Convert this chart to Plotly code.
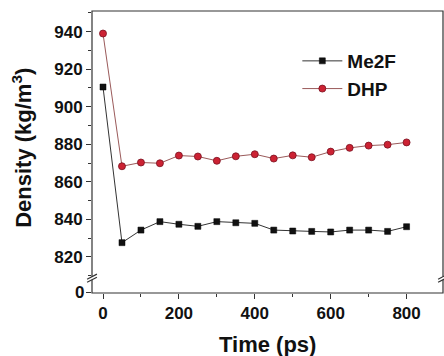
import plotly.graph_objects as go

time_ps = [0, 50, 100, 150, 200, 250, 300, 350, 400, 450, 500, 550, 600, 650, 700, 750, 800]
me2f = [910.5, 827.6, 834.3, 838.8, 837.4, 836.3, 838.8, 838.2, 837.9, 834.3, 833.8, 833.6, 833.3, 834.3, 834.3, 833.6, 836.1]
dhp = [939.0, 868.3, 870.3, 869.9, 874.0, 873.5, 871.2, 873.6, 874.7, 872.4, 874.1, 873.1, 876.1, 878.1, 879.3, 879.8, 881.0]
lower_tick = 0

FONT = "Liberation Sans, Arial, sans-serif"

fig = go.Figure()
fig.add_trace(go.Scatter(
    x=time_ps, y=me2f, name="Me2F", mode="lines+markers", xaxis="x", yaxis="y2",
    line=dict(color="#333333", width=1),
    marker=dict(symbol="square", size=6, color="#111111", line=dict(color="#000000", width=0.5)),
))
fig.add_trace(go.Scatter(
    x=time_ps, y=dhp, name="DHP", mode="lines+markers", xaxis="x", yaxis="y2",
    line=dict(color="#9a5a5a", width=1),
    marker=dict(symbol="circle", size=7, color="#cc2233", line=dict(color="#7a1020", width=0.8)),
))

tickfont = dict(family=FONT, size=17, color="#111111", weight="bold")

shapes = [dict(type="rect", xref="paper", yref="paper", x0=0, x1=1, y0=0, y1=1,
               line=dict(color="#333333", width=1.2), fillcolor="rgba(0,0,0,0)")]
# axis break marks
for xb in (0, 1):
    shapes.append(dict(type="rect", xref="paper", yref="paper", x0=xb - 0.006, x1=xb + 0.006,
                       y0=0.047, y1=0.058, line=dict(width=0), fillcolor="white"))
    for yc in (0.047, 0.058):
        shapes.append(dict(type="line", xref="paper", yref="paper", x0=xb - 0.014, x1=xb + 0.014,
                           y0=yc - 0.009, y1=yc + 0.009, line=dict(color="#333333", width=1.2)))

fig.update_layout(
    width=444, height=356,
    margin=dict(l=92, r=1, t=11, b=63, autoexpand=False),
    paper_bgcolor="white", plot_bgcolor="white",
    font=dict(family=FONT, color="#111111"),
    showlegend=True,
    legend=dict(x=0.585, y=0.89, xanchor="left", yanchor="top", bgcolor="rgba(0,0,0,0)",
                font=dict(family=FONT, size=19, color="#111111", weight="bold"),
                itemwidth=40, tracegroupgap=0),
    xaxis=dict(range=[-29, 896], anchor="y", showgrid=False, zeroline=False, showline=False,
               automargin=False,
               tickvals=[0, 200, 400, 600, 800], ticks="outside", ticklen=5, tickwidth=1,
               tickcolor="#333333", tickfont=tickfont,
               minor=dict(tickvals=[100, 300, 500, 700], ticks="outside", ticklen=3, tickcolor="#333333")),
    yaxis=dict(domain=[0, 0.045], range=[-0.3, 6.8], anchor="x", showgrid=False, zeroline=False,
               automargin=False, showticklabels=False,
               showline=False, tickvals=[lower_tick], ticks="outside", ticklen=5,
               tickcolor="#333333"),
    yaxis2=dict(domain=[0.06, 1], range=[809.8, 951], anchor="x", showgrid=False, zeroline=False,
                automargin=False,
                showline=False, tickvals=[820, 840, 860, 880, 900, 920, 940], ticks="outside",
                ticklen=5, tickcolor="#333333", tickfont=tickfont,
                minor=dict(dtick=10, tick0=0, ticks="outside", ticklen=3, tickcolor="#333333")),
    shapes=shapes,
    annotations=[
        dict(text=str(lower_tick), xref="paper", yref="y", x=0, y=lower_tick, xanchor="right",
             yanchor="middle", xshift=-6, showarrow=False, font=tickfont),
        dict(text="Density (kg/m<sup>3</sup>)", xref="paper", yref="paper", x=-0.2, y=0.514,
             xanchor="center", yanchor="middle", textangle=-90, showarrow=False,
             font=dict(family=FONT, size=22, color="#111111", weight="bold")),
        dict(text="Time (ps)", xref="paper", yref="paper", x=0.5, y=-0.181,
             xanchor="center", yanchor="middle", showarrow=False,
             font=dict(family=FONT, size=22, color="#111111", weight="bold")),
    ],
)

fig.write_html("out.html", post_script="document.body.style.margin='0';",
               config={"displayModeBar": False})
